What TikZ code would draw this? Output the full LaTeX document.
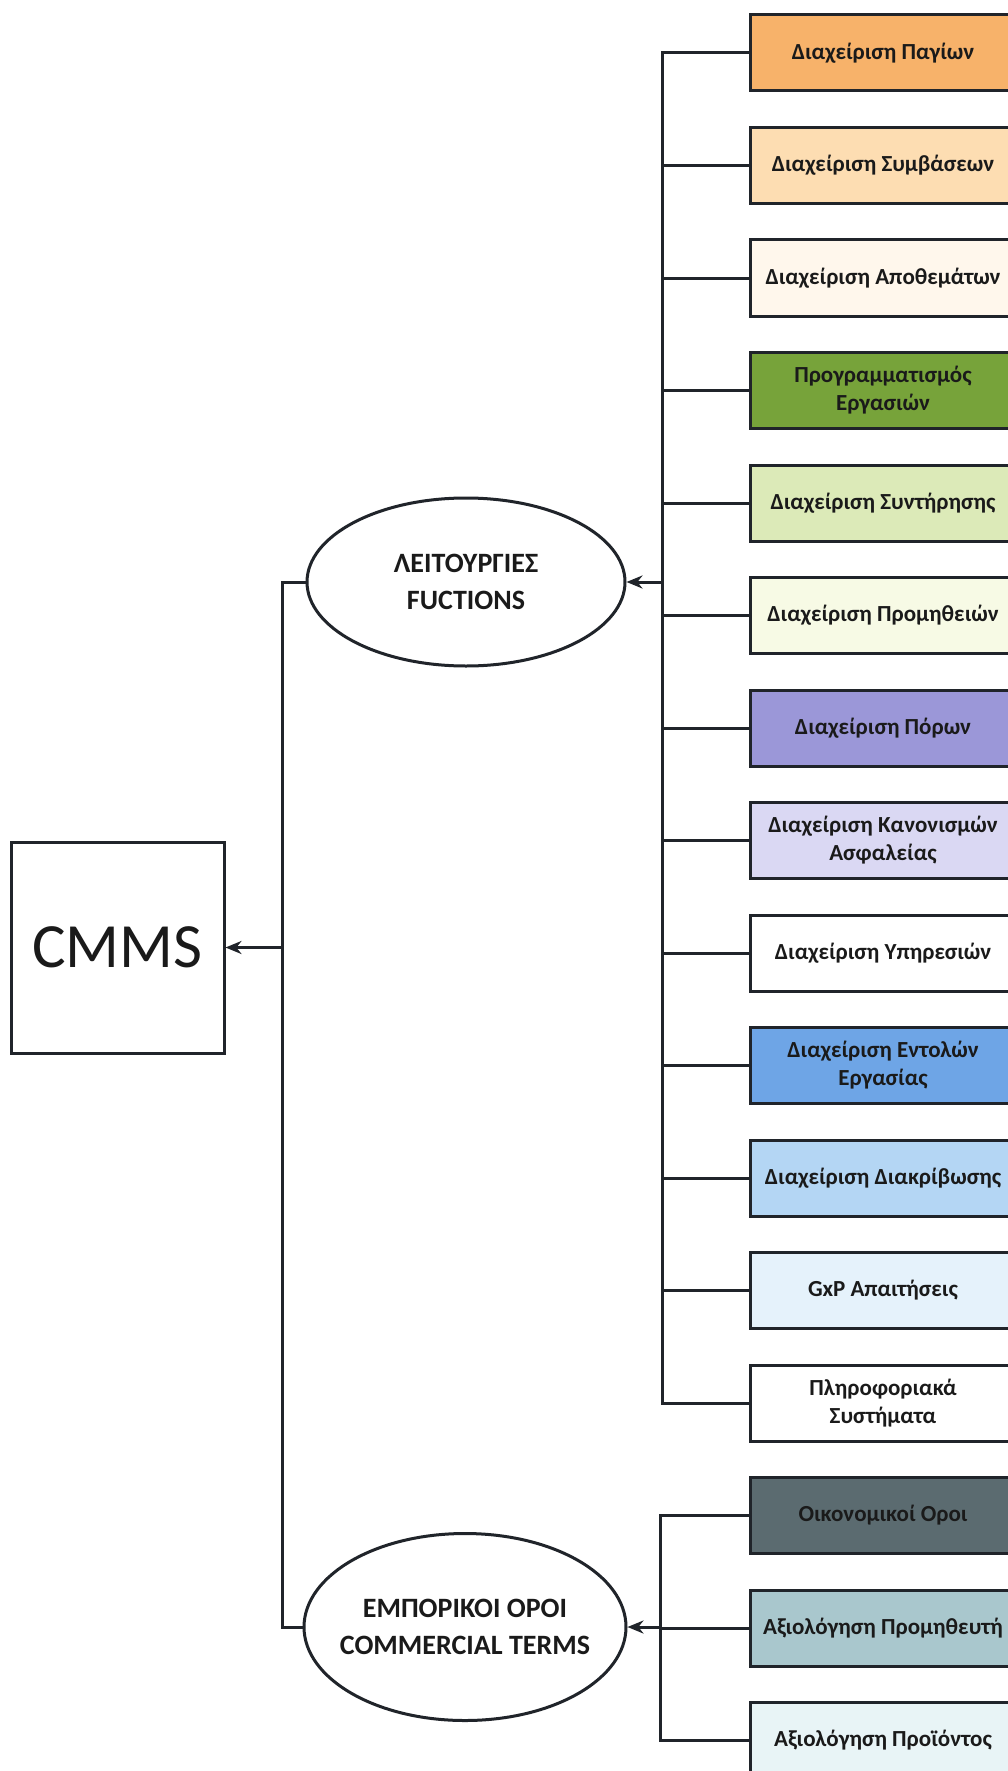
\documentclass[tikz,border=0pt]{standalone}
\usepackage{fontspec}
\setmainfont{Carlito}
\usetikzlibrary{shapes.geometric,arrows.meta}

% line and text colours
\definecolor{linec}{HTML}{20242A}
\definecolor{textc}{HTML}{1A1A1A}
% box fills, top to bottom
\definecolor{cPagia}{HTML}{F7B26A}
\definecolor{cSymv}{HTML}{FDDDB2}
\definecolor{cApoth}{HTML}{FFF7EC}
\definecolor{cProg}{HTML}{77A33A}
\definecolor{cSynt}{HTML}{DCEAB8}
\definecolor{cProm}{HTML}{F7FAE5}
\definecolor{cPoron}{HTML}{9B97D8}
\definecolor{cKanon}{HTML}{DAD8F3}
\definecolor{cYpir}{HTML}{FFFFFF}
\definecolor{cEntol}{HTML}{6EA5E6}
\definecolor{cDiakr}{HTML}{B4D6F4}
\definecolor{cGxP}{HTML}{E5F2FB}
\definecolor{cPlir}{HTML}{FFFFFF}
\definecolor{cOikon}{HTML}{5B6B70}
\definecolor{cAxProm}{HTML}{A9C7CD}
\definecolor{cAxProi}{HTML}{E8F4F6}

\begin{document}
\begin{tikzpicture}[x=1pt,y=-1pt,
  line/.style={draw=linec, line width=3pt},
  tip/.style={-{Stealth[length=16pt,width=13pt]}},
  stepbox/.style={rectangle, draw=linec, line width=3pt,
    minimum width=266pt, minimum height=76pt, inner sep=2pt,
    align=center, text=textc,
    font=\fontsize{23}{28}\selectfont\bfseries},
  hub/.style={ellipse, draw=linec, line width=3pt, fill=white,
    inner xsep=-60pt, inner ysep=0pt, align=center, text=textc,
    font=\fontsize{28}{37}\selectfont\bfseries},
  rootbox/.style={rectangle, draw=linec, line width=3pt, fill=white,
    minimum width=213pt, minimum height=211pt, inner sep=0pt,
    text=textc, font=\fontsize{63}{70}\selectfont}]

\useasboundingbox (0,0) rectangle (1008,1771);
\clip (0,0) rectangle (1008,1771);
\fill[white] (0,0) rectangle (1008,1771);

% bus positions
\coordinate (busL) at (282,0);
\coordinate (busA) at (662,0);
\coordinate (busB) at (660,0);

% root
\node[rootbox] (cmms) at (117.5,947.5) {CMMS};

% the two groups
\node[hub, minimum width=318pt, minimum height=168pt] (fn) at (466,582)
  {ΛΕΙΤΟΥΡΓΙΕΣ\\FUCTIONS};
\node[hub, minimum width=322pt, minimum height=187pt] (ct) at (465,1627)
  {ΕΜΠΟΡΙΚΟΙ ΟΡΟΙ\\COMMERCIAL TERMS};

% functions
\node[stepbox, fill=cPagia]  (f1)  at (883,53)    {Διαχείριση Παγίων};
\node[stepbox, fill=cSymv]   (f2)  at (883,165.5) {Διαχείριση Συμβάσεων};
\node[stepbox, fill=cApoth]  (f3)  at (883,278)   {Διαχείριση Αποθεμάτων};
\node[stepbox, fill=cProg]   (f4)  at (883,390.5) {Προγραμματισμός\\Εργασιών};
\node[stepbox, fill=cSynt]   (f5)  at (883,503)   {Διαχείριση Συντήρησης};
\node[stepbox, fill=cProm]   (f6)  at (883,615.5) {Διαχείριση Προμηθειών};
\node[stepbox, fill=cPoron]  (f7)  at (883,728)   {Διαχείριση Πόρων};
\node[stepbox, fill=cKanon]  (f8)  at (883,840.5) {Διαχείριση Κανονισμών\\Ασφαλείας};
\node[stepbox, fill=cYpir]   (f9)  at (883,953)   {Διαχείριση Υπηρεσιών};
\node[stepbox, fill=cEntol]  (f10) at (883,1065.5){Διαχείριση Εντολών\\Εργασίας};
\node[stepbox, fill=cDiakr]  (f11) at (883,1178)  {Διαχείριση Διακρίβωσης};
\node[stepbox, fill=cGxP]    (f12) at (883,1290.5){GxP Απαιτήσεις};
\node[stepbox, fill=cPlir]   (f13) at (883,1403)  {Πληροφοριακά\\Συστήματα};

% commercial terms
\node[stepbox, fill=cOikon]   (c1) at (883,1515.5) {Οικονομικοί Οροι};
\node[stepbox, fill=cAxProm]  (c2) at (883,1628)   {Αξιολόγηση Προμηθευτή};
\node[stepbox, fill=cAxProi]  (c3) at (883,1740.5) {Αξιολόγηση Προϊόντος};

% function bus
\draw[line] (f1.west) -- (f1.west -| busA) -- (f13.west -| busA) -- (f13.west);
\foreach \n in {f2,f3,f4,f5,f6,f7,f8,f9,f10,f11,f12}
  \draw[line] (\n.west) -- (\n.west -| busA);
\draw[line, tip] (fn.east -| busA) -- (fn.east);

% commercial bus
\draw[line] (c1.west) -- (c1.west -| busB) -- (c3.west -| busB) -- (c3.west);
\draw[line] (c2.west) -- (c2.west -| busB);
\draw[line, tip] (ct.east -| busB) -- (ct.east);

% root bus
\draw[line] (fn.west) -- (fn.west -| busL) -- (ct.west -| busL) -- (ct.west);
\draw[line, tip] (cmms.east -| busL) -- (cmms.east);

\end{tikzpicture}
\end{document}
